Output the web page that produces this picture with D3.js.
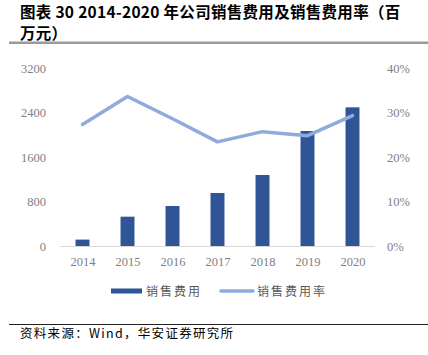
<!DOCTYPE html>
<html><head><meta charset="utf-8">
<script src="https://cdn.jsdelivr.net/npm/d3@7"></script>
<style>body{margin:0;background:#fff}svg{display:block}</style>
</head><body>
<script>
const years = ["2014","2015","2016","2017","2018","2019","2020"];
const salesExpense = [115, 527, 719, 953, 1276, 2067, 2493];
const salesExpenseRate = [27.3, 33.6, 28.6, 23.4, 25.7, 24.8, 29.3];
const leftTicks = [0, 800, 1600, 2400, 3200];
const rightTicks = [0, 10, 20, 30, 40];
const seriesNames = ["销售费用", "销售费用率"];
const titleLines = ["图表 30 2014-2020 年公司销售费用及销售费用率（百", "万元）"];
const sourceText = "资料来源：Wind，华安证券研究所";

const W = 428, H = 355;
const svg = d3.select("body").append("svg").attr("width", W).attr("height", H);

// title
svg.selectAll("text.title").data(titleLines).enter().append("text")
  .attr("class","title")
  .attr("x", 20).attr("y", (d,i)=>18 + i*20.5)
  .attr("font-family", "'Noto Sans CJK SC', sans-serif").attr("font-weight", "bold")
  .attr("font-size", 15.5).attr("letter-spacing", 0.3).attr("fill", "#000").text(d=>d);
svg.append("rect").attr("x", 9).attr("y", 41.5).attr("width", W-9).attr("height", 2.5).attr("fill", "#9a9a9a");

const x = d3.scaleBand().domain(years).range([60, 375]).paddingInner(0.69).paddingOuter(0.345);
const xc = d3.scalePoint().domain(years).range([60, 375]).padding(0.5);
const yL = d3.scaleLinear().domain([0, 3200]).range([246, 68]);
const yR = d3.scaleLinear().domain([0, 40]).range([246, 68]);

const tickFont = "'Liberation Serif', 'Times New Roman', serif";
const gray = "#7f7f7f";

// left axis
const gl = svg.append("g").attr("transform", "translate(60,0)")
  .call(d3.axisLeft(yL).tickValues(leftTicks).tickSize(0).tickPadding(14).tickFormat(d=>String(d)));
gl.select(".domain").remove();
gl.selectAll("text").attr("font-family", tickFont).attr("font-size", 12.5).attr("fill", gray);

// right axis
const gr = svg.append("g").attr("transform", "translate(375,0)")
  .call(d3.axisRight(yR).tickValues(rightTicks).tickSize(0).tickPadding(12).tickFormat(d=>d+"%"));
gr.select(".domain").remove();
gr.selectAll("text").attr("font-family", tickFont).attr("font-size", 12.5).attr("fill", gray);

// bars
svg.selectAll("rect.bar").data(years).enter().append("rect")
  .attr("class","bar")
  .attr("x", d=>x(d)).attr("width", x.bandwidth())
  .attr("y", (d,i)=>yL(salesExpense[i])).attr("height", (d,i)=>yL(0)-yL(salesExpense[i]))
  .attr("fill", "#2F5597");

// baseline
svg.append("line").attr("x1", 60).attr("x2", 375).attr("y1", 246.5).attr("y2", 246.5)
  .attr("stroke", "#d9d9d9").attr("stroke-width", 1.2);

// x axis labels
const gx = svg.append("g").attr("transform", "translate(0,246)")
  .call(d3.axisBottom(xc).tickSize(0).tickPadding(11));
gx.select(".domain").remove();
gx.selectAll("text").attr("font-family", tickFont).attr("font-size", 12.5).attr("fill", gray);

// line
const line = d3.line().x((d,i)=>xc(years[i])).y(d=>yR(d));
svg.append("path").datum(salesExpenseRate).attr("d", line)
  .attr("fill","none").attr("stroke","#8FAADC").attr("stroke-width", 3.5)
  .attr("stroke-linejoin","round").attr("stroke-linecap","round");

// legend
const lg = svg.append("g");
lg.append("rect").attr("x", 111).attr("y", 288.5).attr("width", 31).attr("height", 5).attr("fill", "#2F5597");
lg.append("text").attr("x", 146).attr("y", 295.5).text(seriesNames[0]);
lg.append("line").attr("x1", 221).attr("x2", 253).attr("y1", 291).attr("y2", 291)
  .attr("stroke", "#8FAADC").attr("stroke-width", 3.5).attr("stroke-linecap","round");
lg.append("text").attr("x", 257).attr("y", 295.5).text(seriesNames[1]);
lg.selectAll("text").attr("font-family", "'Noto Sans CJK SC', sans-serif").attr("font-size", 12)
  .attr("letter-spacing", 2).attr("fill", "#595959");

// footer
svg.append("line").attr("x1", 9).attr("x2", W).attr("y1", 324.5).attr("y2", 324.5)
  .attr("stroke", "#222").attr("stroke-width", 1);
svg.append("text").attr("x", 20).attr("y", 338).attr("font-family", "'Noto Sans CJK SC', sans-serif")
  .attr("font-size", 12.5).attr("letter-spacing", 1.3).attr("fill", "#000").text(sourceText);
</script>
</body></html>
